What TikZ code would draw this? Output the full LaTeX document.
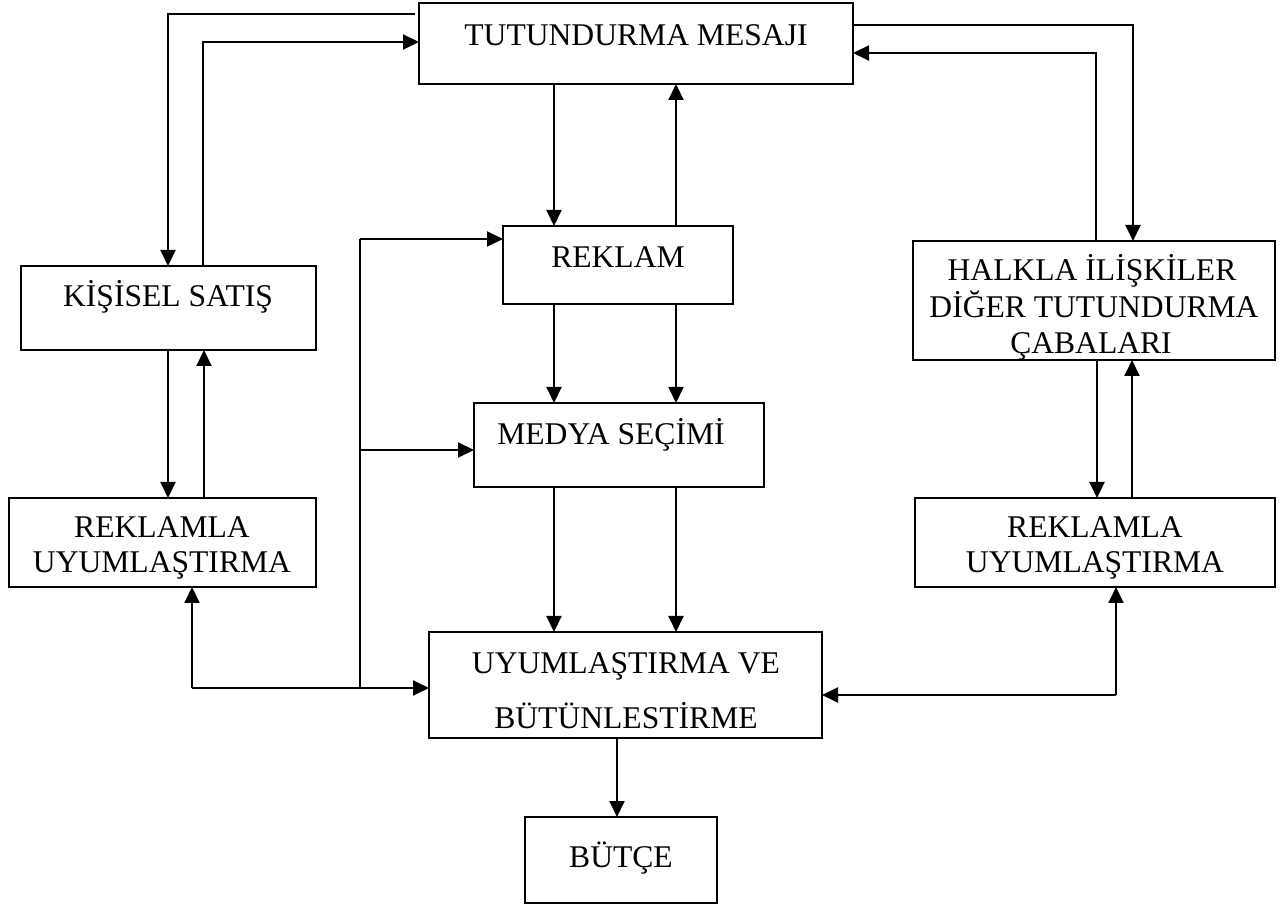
\documentclass[tikz,border=0pt]{standalone}
\usepackage{fontspec}
\setmainfont{Liberation Serif}
\usetikzlibrary{arrows.meta,fit}

\begin{document}
\begin{tikzpicture}[x=0.5pt,y=-0.5pt,
  box/.style={draw,line width=1pt,inner sep=0pt,outer sep=0pt},
  lbl/.style={anchor=base,inner sep=0pt,font=\fontsize{15.8}{17}\selectfont},
  conn/.style={line width=1pt},
  arr/.style={line width=1pt,-{Triangle[length=8pt,width=7.5pt]}}]
\useasboundingbox (0,0) rectangle (1285,924);

% boxes
\node[box,fit={(419,3) (853,84)}]    (tm)  {};
\node[box,fit={(503,226) (733,304)}] (rek) {};
\node[box,fit={(21,266) (316,350)}]  (ks)  {};
\node[box,fit={(913,241) (1275,360)}](hal) {};
\node[box,fit={(474,403) (764,487)}] (med) {};
\node[box,fit={(9,498) (316,587)}]   (ruL) {};
\node[box,fit={(915,498) (1275,587)}](ruR) {};
\node[box,fit={(429,632) (822,738)}] (uyu) {};
\node[box,fit={(525,817) (717,903)}] (but) {};

% labels
\node[lbl] (tmT)  at (636,46)  {TUTUNDURMA MESAJI};
\node[lbl] (rekT) at (618,268) {REKLAM};
\node[lbl] (ksT)  at (168,307) {KİŞİSEL SATIŞ};
\node[lbl] (halA) at (1092,281) {HALKLA İLİŞKİLER};
\node[lbl] (halB) at (1094,318) {DİĞER TUTUNDURMA};
\node[lbl] (halC) at (1091,354) {ÇABALARI};
\node[lbl] (medT) at (611,445) {MEDYA SEÇİMİ};
\node[lbl] (ruLA) at (162,538) {REKLAMLA};
\node[lbl] (ruLB) at (162,573) {UYUMLAŞTIRMA};
\node[lbl] (ruRA) at (1095,538) {REKLAMLA};
\node[lbl] (ruRB) at (1095,573) {UYUMLAŞTIRMA};
\node[lbl] (uyuA) at (626,674) {UYUMLAŞTIRMA VE};
\node[lbl] (uyuB) at (626,728) {BÜTÜNLESTİRME};
\node[lbl] (butT) at (621,867) {BÜTÇE};

% loops round the top box
\coordinate (tlA) at (415,14);
\draw[arr] (tlA) -- (168,14) -- (168,0 |- ks.north);
\draw[arr] (203,0 |- ks.north) -- (203,42) -- (tm.west |- 0,42);
\draw[arr] (tm.east |- 0,25) -- (1133,25) -- (1133,0 |- hal.north);
\coordinate (hStub) at (1086,241);
\draw[arr] (hStub) -- (1096,241) -- (1096,53) -- (tm.east |- 0,53);

% central column
\draw[arr] (554,0 |- tm.south) -- (554,0 |- rek.north);
\draw[arr] (676,0 |- rek.north) -- (676,0 |- tm.south);
\draw[arr] (554,0 |- rek.south) -- (554,0 |- med.north);
\draw[arr] (676,0 |- rek.south) -- (676,0 |- med.north);
\draw[arr] (554,0 |- med.south) -- (554,0 |- uyu.north);
\draw[arr] (676,0 |- med.south) -- (676,0 |- uyu.north);
\draw[arr] (617,0 |- uyu.south) -- (617,0 |- but.north);

% side columns
\draw[arr] (168,0 |- ks.south) -- (168,0 |- ruL.north);
\draw[arr] (204,0 |- ruL.north) -- (204,0 |- ks.south);
\draw[arr] (1097,0 |- hal.south) -- (1097,0 |- ruR.north);
\draw[arr] (1132,0 |- ruR.north) -- (1132,0 |- hal.south);

% lower left bus
\coordinate (jL) at (192,688);
\coordinate (bB) at (360,688);
\coordinate (bT) at (360,239);
\coordinate (bM) at (360,450);
\draw[arr] (jL) -- (192,0 |- ruL.south);
\draw[arr] (jL) -- (uyu.west |- jL);
\draw[conn] (bB) -- (bT);
\draw[arr] (bT) -- (rek.west |- bT);
\draw[arr] (bM) -- (med.west |- bM);

% lower right bus
\coordinate (jR) at (1116,695);
\draw[arr] (jR) -- (1116,0 |- ruR.south);
\draw[arr] (jR) -- (uyu.east |- jR);
\end{tikzpicture}
\end{document}
